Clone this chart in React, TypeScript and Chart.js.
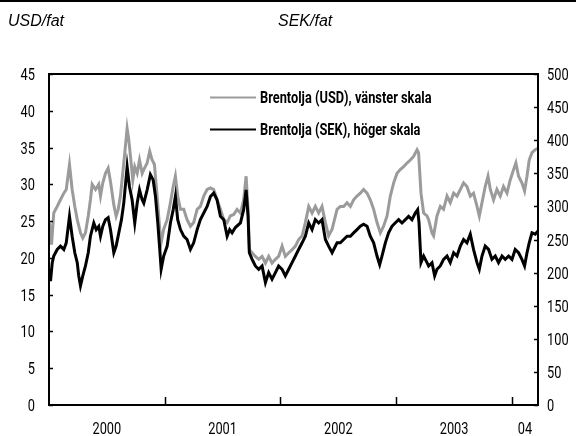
import { useEffect, useRef } from "react";
import { Chart, registerables } from "chart.js";

Chart.register(...registerables);

// Decimal years for each reading of the USD series
const usdDates = [
  2000.004, 2000.022, 2000.041, 2000.071, 2000.099, 2000.128, 2000.149, 2000.177, 2000.2, 2000.223,
  2000.244, 2000.272, 2000.292, 2000.315, 2000.339, 2000.358, 2000.373, 2000.402, 2000.43, 2000.445,
  2000.465, 2000.488, 2000.511, 2000.531, 2000.56, 2000.58, 2000.598, 2000.617, 2000.637, 2000.655,
  2000.675, 2000.689, 2000.704, 2000.724, 2000.741, 2000.762, 2000.782, 2000.805, 2000.819, 2000.848,
  2000.87, 2000.891, 2000.911, 2000.934, 2000.957, 2000.969, 2000.991,
  2001.021, 2001.049, 2001.073, 2001.092, 2001.112, 2001.136, 2001.164, 2001.193, 2001.222, 2001.25,
  2001.28, 2001.308, 2001.337, 2001.366, 2001.395, 2001.423, 2001.452, 2001.481, 2001.51, 2001.539,
  2001.567, 2001.596, 2001.625, 2001.654, 2001.682, 2001.703, 2001.72, 2001.731, 2001.755, 2001.783,
  2001.812, 2001.841, 2001.87, 2001.898, 2001.927, 2001.956, 2001.984,
  2002.014, 2002.042, 2002.071, 2002.1, 2002.129, 2002.157, 2002.187, 2002.215, 2002.244, 2002.273,
  2002.301, 2002.33, 2002.359, 2002.388, 2002.416, 2002.446,
  2002.489, 2002.517, 2002.546, 2002.575, 2002.604, 2002.632, 2002.661, 2002.69, 2002.718, 2002.748,
  2002.776, 2002.805, 2002.834, 2002.863, 2002.891, 2002.921, 2002.949, 2002.978,
  2003.007, 2003.035, 2003.064, 2003.093, 2003.122, 2003.15, 2003.18, 2003.193, 2003.214, 2003.237,
  2003.266, 2003.28, 2003.309, 2003.323, 2003.352, 2003.381, 2003.409, 2003.439, 2003.467, 2003.496,
  2003.525, 2003.554, 2003.582, 2003.611, 2003.64, 2003.668, 2003.698, 2003.718, 2003.741, 2003.769,
  2003.793, 2003.813, 2003.841, 2003.87, 2003.899, 2003.927, 2003.957, 2003.985,
  2004.014, 2004.034, 2004.057, 2004.086, 2004.109, 2004.13, 2004.149, 2004.173, 2004.201, 2004.225,
];

// Brent oil, USD per barrel (left axis)
const usdValues = [
  24.8, 21.8, 26.1, 27.0, 27.9, 28.8, 29.3, 32.7, 29.3, 27.0,
  25.2, 23.4, 22.7, 23.4, 25.7, 27.9, 30.0, 29.3, 30.0, 28.4,
  30.2, 31.5, 32.2, 30.4, 27.2, 25.7, 26.6, 28.4, 31.5, 34.3,
  37.6, 36.1, 33.8, 30.6, 32.4, 31.5, 33.3, 31.5, 32.0, 32.9,
  34.5, 33.3, 32.7, 28.4, 23.9, 22.1, 23.9,
  25.2, 27.5, 29.7, 31.1, 28.4, 26.6, 26.6, 25.2, 24.3, 24.8,
  26.6, 27.0, 28.4, 29.3, 29.5, 29.3, 27.9, 26.6, 25.2, 24.8,
  25.7, 25.9, 26.6, 26.1, 27.9, 31.1, 26.6, 21.1, 20.7, 20.2,
  19.8, 20.2, 19.3, 20.2, 19.3, 19.8, 20.2,
  21.6, 20.2, 20.7, 21.1, 21.6, 22.5, 23.0, 24.8, 27.0, 26.1,
  27.0, 26.1, 27.0, 24.8, 23.0, 23.9,
  26.6, 27.0, 27.0, 27.5, 27.0, 27.9, 28.4, 28.8, 29.3, 28.8,
  27.9, 26.6, 24.8, 23.4, 24.3, 25.7, 28.4, 30.2,
  31.5, 32.0, 32.4, 32.9, 33.3, 33.8, 34.7, 34.3, 28.8, 26.1,
  25.7, 25.2, 23.4, 23.0, 25.7, 27.0, 26.6, 28.4, 27.5, 28.8,
  28.4, 29.3, 30.2, 29.7, 28.4, 28.8, 27.0, 25.7, 27.5, 29.7,
  31.1, 29.3, 27.9, 29.3, 28.4, 29.7, 28.8, 30.6,
  32.0, 32.9, 31.1, 30.2, 29.1, 31.1, 33.3, 34.3, 34.7, 34.9,
];

// Decimal years for each reading of the SEK series
const sekDates = [
  2000.004, 2000.013, 2000.028, 2000.041, 2000.071, 2000.099, 2000.128, 2000.149, 2000.177, 2000.2,
  2000.223, 2000.244, 2000.257, 2000.272, 2000.292, 2000.315, 2000.339, 2000.358, 2000.387, 2000.408,
  2000.43, 2000.445, 2000.465, 2000.488, 2000.511, 2000.531, 2000.56, 2000.58, 2000.603, 2000.626,
  2000.646, 2000.675, 2000.695, 2000.718, 2000.741, 2000.762, 2000.782, 2000.805, 2000.819, 2000.848,
  2000.876, 2000.9, 2000.92, 2000.94, 2000.957, 2000.969, 2000.991,
  2001.021, 2001.049, 2001.073, 2001.092, 2001.112, 2001.136, 2001.164, 2001.193, 2001.222, 2001.25,
  2001.28, 2001.308, 2001.337, 2001.366, 2001.395, 2001.423, 2001.452, 2001.481, 2001.51, 2001.539,
  2001.561, 2001.582, 2001.61, 2001.654, 2001.682, 2001.703, 2001.72, 2001.731, 2001.755, 2001.783,
  2001.812, 2001.841, 2001.87, 2001.898, 2001.927, 2001.956, 2001.984,
  2002.014, 2002.042, 2002.071, 2002.1, 2002.129, 2002.157, 2002.187, 2002.215, 2002.244, 2002.273,
  2002.301, 2002.33, 2002.359, 2002.388, 2002.416, 2002.446, 2002.489, 2002.517, 2002.546, 2002.575,
  2002.604, 2002.632, 2002.661, 2002.69, 2002.718, 2002.748, 2002.776, 2002.805, 2002.834, 2002.857,
  2002.877, 2002.906, 2002.934, 2002.963, 2002.991,
  2003.021, 2003.05, 2003.079, 2003.107, 2003.136, 2003.165, 2003.185, 2003.197, 2003.214, 2003.237,
  2003.266, 2003.28, 2003.309, 2003.332, 2003.352, 2003.381, 2003.409, 2003.439, 2003.467, 2003.496,
  2003.525, 2003.554, 2003.582, 2003.611, 2003.64, 2003.668, 2003.698, 2003.718, 2003.741, 2003.769,
  2003.798, 2003.827, 2003.856, 2003.884, 2003.914, 2003.942, 2003.971, 2004.0,
  2004.028, 2004.057, 2004.086, 2004.109, 2004.13, 2004.149, 2004.173, 2004.201, 2004.225,
];

// Brent oil, SEK per barrel (right axis)
const sekValues = [
  205, 187, 215, 225, 235, 240, 235, 245, 285, 255,
  230, 215, 195, 180, 195, 210, 230, 255, 275, 265,
  270, 255, 270, 280, 283, 265, 230, 240, 260, 280,
  305, 360, 330, 310, 275, 305, 325, 310, 305, 325,
  348, 340, 315, 275, 235, 205, 225,
  240, 275, 295, 315, 280, 265, 255, 250, 235, 245,
  265, 280, 290, 300, 315, 320, 310, 285, 280, 255,
  265, 260, 268, 275, 295, 325, 285, 230, 220, 210,
  205, 210, 185, 200, 190, 200, 210,
  205, 195, 205, 215, 225, 235, 245, 255, 275, 265,
  280, 275, 280, 250, 240, 230, 245, 245, 250, 255,
  255, 260, 265, 270, 273, 270, 255, 245, 225, 212,
  225, 245, 260, 270, 275,
  280, 275, 280, 285, 280, 290, 295, 275, 215, 225,
  215, 210, 215, 195, 205, 210, 220, 225, 215, 230,
  225, 240, 250, 245, 258, 235, 215, 205, 225, 240,
  235, 220, 225, 215, 225, 220, 225, 220,
  235, 230, 220, 210, 230, 245, 260, 258, 263,
];

const xLabels = ["2000", "2001", "2002", "2003", "04"];
const xLabelPositions = [2000.5, 2001.5, 2002.5, 2003.5, 2004.112];
const yearBoundaries = [2001, 2002, 2003, 2004];
const seriesLabels = ["Brentolja (USD), vänster skala", "Brentolja (SEK), höger skala"];
const leftUnit = "USD/fat";
const rightUnit = "SEK/fat";

const BASE = 'Roboto, "Liberation Sans", sans-serif';
const SQUEEZE = 0.8;
const GRAY = "#9b9b9b";

function narrowText(ctx: any, text: string, x: number, y: number, align: string, font: string) {
  ctx.save();
  ctx.translate(x, y);
  ctx.scale(SQUEEZE, 1);
  ctx.font = font;
  ctx.textAlign = align;
  ctx.textBaseline = "alphabetic";
  ctx.fillStyle = "#000";
  ctx.fillText(text, 0, 0);
  ctx.restore();
}

const decor = {
  id: "decor",
  beforeDraw(chart: any) {
    const { ctx } = chart;
    ctx.save();
    ctx.fillStyle = "#000";
    ctx.fillRect(0, 0, chart.width, 2);
    ctx.font = 'italic 16px "Liberation Sans", Arial, sans-serif';
    ctx.textBaseline = "middle";
    ctx.textAlign = "left";
    ctx.fillText(leftUnit, 8, 22);
    ctx.fillText(rightUnit, 278, 22);
    ctx.restore();
  },
  afterDatasetsDraw(chart: any) {
    const { ctx, chartArea: a, scales } = chart;
    ctx.save();
    ctx.strokeStyle = "#000";
    ctx.lineWidth = 2;
    ctx.strokeRect(a.left, a.top, a.right - a.left, a.bottom - a.top);
    ctx.beginPath();
    scales.y.ticks.forEach((t: any) => {
      const y = Math.round(scales.y.getPixelForValue(t.value)) + 0.5;
      ctx.moveTo(a.left, y);
      ctx.lineTo(a.left + 4, y);
    });
    scales.y1.ticks.forEach((t: any) => {
      const y = Math.round(scales.y1.getPixelForValue(t.value)) + 0.5;
      ctx.moveTo(a.right - 4, y);
      ctx.lineTo(a.right, y);
    });
    yearBoundaries.forEach((v) => {
      const x = Math.round(scales.x.getPixelForValue(v)) + 0.5;
      ctx.moveTo(x, a.bottom);
      ctx.lineTo(x, a.bottom - 8);
    });
    ctx.lineWidth = 1.5;
    ctx.stroke();

    // tick labels (condensed)
    const tickFont = "16px " + BASE;
    scales.y.ticks.forEach((t: any) => {
      const y = scales.y.getPixelForValue(t.value);
      narrowText(ctx, String(t.value), a.left - 14, y + 6, "right", tickFont);
    });
    scales.y1.ticks.forEach((t: any) => {
      const y = scales.y1.getPixelForValue(t.value);
      narrowText(ctx, String(t.value), a.right + 9, y + 6, "left", tickFont);
    });
    xLabelPositions.forEach((v, i) => {
      const x = scales.x.getPixelForValue(v);
      narrowText(ctx, xLabels[i], x, a.bottom + 29, "center", tickFont);
    });

    // legend inside plot
    const ys = [97, 129];
    const x0 = a.left + 161;
    chart.data.datasets.forEach((ds: any, i: number) => {
      const y = ys[i];
      ctx.beginPath();
      ctx.strokeStyle = ds.borderColor;
      ctx.lineWidth = 2;
      ctx.moveTo(x0, y + 0.5);
      ctx.lineTo(x0 + 46, y + 0.5);
      ctx.stroke();
      narrowText(ctx, ds.label, x0 + 50, y + 6, "left", "bold 16px " + BASE);
    });
    ctx.restore();
  },
};

export default function App() {
  const ref = useRef<HTMLCanvasElement>(null);
  useEffect(() => {
    if (!ref.current) return;
    const chart = new Chart(ref.current, {
      type: "line",
      data: {
        datasets: [
          {
            label: seriesLabels[0],
            data: usdDates.map((d, i) => ({ x: d, y: usdValues[i] })),
            borderColor: GRAY,
            borderWidth: 3,
            pointRadius: 0,
            yAxisID: "y",
            order: 1,
          },
          {
            label: seriesLabels[1],
            data: sekDates.map((d, i) => ({ x: d, y: sekValues[i] })),
            borderColor: "#000",
            borderWidth: 3,
            pointRadius: 0,
            yAxisID: "y1",
            order: 0,
          },
        ],
      },
      options: {
        responsive: false,
        animation: false,
        layout: { padding: { top: 74, left: 0, right: 0, bottom: 0 } },
        plugins: { legend: { display: false }, tooltip: { enabled: false } },
        scales: {
          x: {
            type: "linear",
            min: 2000,
            max: 2004.225,
            grid: { display: false, drawTicks: false },
            border: { display: false },
            afterFit: (s: any) => {
              s.height = 31;
            },
            ticks: { display: false },
          },
          y: {
            position: "left",
            min: 0,
            max: 45,
            grid: { display: false, drawTicks: false },
            border: { display: false },
            afterFit: (s: any) => {
              s.width = 49;
            },
            ticks: { display: false, stepSize: 5 },
          },
          y1: {
            position: "right",
            min: 0,
            max: 500,
            grid: { display: false, drawTicks: false },
            border: { display: false },
            afterFit: (s: any) => {
              s.width = 38;
            },
            ticks: { display: false, stepSize: 50 },
          },
        },
      },
      plugins: [decor],
    });
    return () => chart.destroy();
  }, []);
  return (
    <div style={{ position: "absolute", left: 0, top: 0, width: 576, height: 436, background: "#fff" }}>
      <canvas ref={ref} width={576} height={436} style={{ display: "block" }} />
    </div>
  );
}
